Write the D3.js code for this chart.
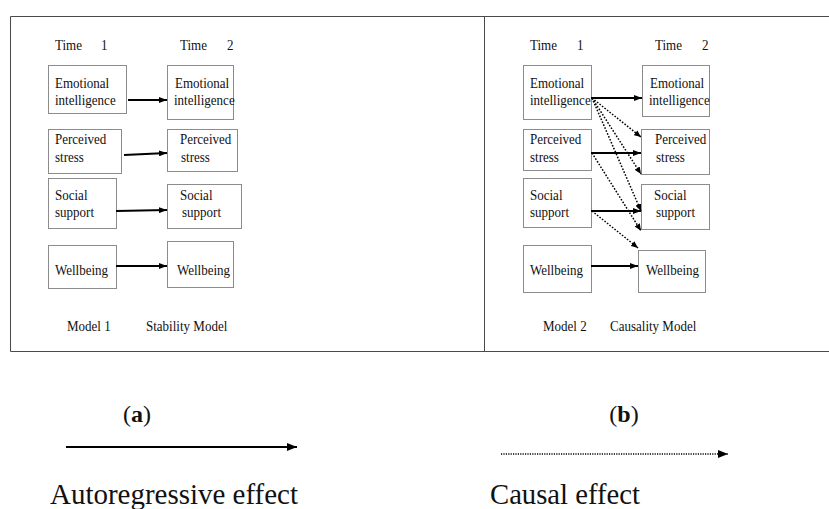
<!DOCTYPE html>
<html><head><meta charset="utf-8">
<script src="https://cdn.jsdelivr.net/npm/d3@7"></script>
<style>body{margin:0;background:#fff}svg{display:block}</style>
</head><body>
<script>
// ---- content ----
const timeLabels = ["1", "2"];
const variableLines = [["Emotional", "intelligence"], ["Perceived", "stress"], ["Social", "support"], ["Wellbeing"]];
const modelNumbers = ["Model 1", "Model 2"];
const modelNames = ["Stability Model", "Causality Model"];
const panelLetters = ["a", "b"];
const effectLabels = ["Autoregressive effect", "Causal effect"];
// causal (dotted) paths of model 2: source variable, target variable, anchor on target box edge (fraction of height)
const causalFrom = [0, 0, 0, 1, 2];
const causalTo = [1, 1, 2, 2, 3];
const causalAnchor = [0.18, 1.0, 0.6, 1.04, -0.05];

// ---- layout ----
const W = 829, H = 509;
const layout = {
  frame: {x0: 10, y0: 16, x1: 829, y1: 351, divider: 484},
  panels: [
    {
      t1: [[48,65,78,48],[48,129,73,44],[48,178,68,50],[48,245,68,43]],
      t2: [[167,65,66,54],[167,129,70,42],[167,184,74,44],[167,241,66,46]],
      t1dx: [[7,7],[7,7],[7,7],[7]],
      t2dx: [[8,7],[13,14],[13,15],[10]],
      arrowY: [[100,100],[155,153],[211,210],[266,266]],
      arrowGap: [2,3,0,0],
      timeX: [[55,101],[180,227]],
      modelX: [67,146]
    },
    {
      t1: [[523,65,68,54],[523,129,68,41],[523,178,68,49],[523,245,68,47]],
      t2: [[642,65,67,51],[641,129,68,45],[641,184,68,45],[638,250,67,42]],
      t1dx: [[7,7],[7,7],[7,7],[7]],
      t2dx: [[8,7],[14,15],[13,15],[8]],
      arrowY: [[98,98],[153,153],[211,211],[266,266]],
      arrowGap: [0,0,0,0],
      timeX: [[530,577],[655,702]],
      modelX: [543,610]
    }
  ],
  rowBase: [[88,105],[144,162],[200,217],[275]],
  timeY: 50, modelY: 331,
  legend: {
    letterX: [137, 624], letterY: 422,
    arrowX: [[66,297],[501,728]], arrowY: [447, 454],
    labelX: [50, 490], labelY: 504, labelLen: [248, 150]
  }
};
const FS = 15.5, SX = 0.84; // diagram font: tall and narrow

const svg = d3.select("body").append("svg").attr("width", W).attr("height", H);
const defs = svg.append("defs");
function marker(id, len, wid) {
  defs.append("marker").attr("id", id)
    .attr("viewBox", `0 0 ${len} ${wid}`).attr("refX", len).attr("refY", wid/2)
    .attr("markerWidth", len).attr("markerHeight", wid).attr("markerUnits", "userSpaceOnUse")
    .attr("orient", "auto")
    .append("path").attr("d", `M0,0L${len},${wid/2}L0,${wid}Z`).attr("fill", "#000");
}
marker("hs", 8, 6);
marker("hd", 7, 6);
marker("hl", 10, 8);
marker("hld", 10, 8);

const serif = "'Liberation Serif','Times New Roman',serif";
const F = layout.frame;
const fr = svg.append("g").attr("stroke", "#4a4a4a").attr("stroke-width", 1).attr("fill", "none");
fr.append("path").attr("d", `M${F.x1},${F.y0+0.5}H${F.x0+0.5}V${F.y1+0.5}H${F.x1}`);
fr.append("line").attr("x1", F.divider+0.5).attr("x2", F.divider+0.5).attr("y1", F.y0).attr("y2", F.y1);

function label(g, x, y, s) {
  g.append("text").attr("transform", `translate(${x},${y}) scale(${SX},1)`).text(s);
}

layout.panels.forEach((p, pi) => {
  const g = svg.append("g").attr("font-family", serif).attr("font-size", FS).attr("fill", "#111");
  // time headers
  timeLabels.forEach((t, ti) => {
    label(g, p.timeX[ti][0], layout.timeY, "Time");
    label(g, p.timeX[ti][1], layout.timeY, t);
  });
  // boxes
  [p.t1, p.t2].forEach((col, ci) => {
    const dxs = ci === 0 ? p.t1dx : p.t2dx;
    col.forEach((b, vi) => {
      g.append("rect").attr("x", b[0]+0.5).attr("y", b[1]+0.5).attr("width", b[2]).attr("height", b[3])
        .attr("fill", "#fff").attr("stroke", "#8c8c8c").attr("stroke-width", 1);
      variableLines[vi].forEach((ln, li) => {
        label(g, b[0] + dxs[vi][li], layout.rowBase[vi][li], ln);
      });
    });
  });
  // autoregressive arrows
  variableLines.forEach((_, vi) => {
    const s = p.t1[vi], t = p.t2[vi];
    svg.append("line")
      .attr("x1", s[0] + s[2] + p.arrowGap[vi]).attr("y1", p.arrowY[vi][0])
      .attr("x2", t[0]).attr("y2", p.arrowY[vi][1])
      .attr("stroke", "#000").attr("stroke-width", 1.8).attr("marker-end", "url(#hs)");
  });
  // causal arrows (model 2 only)
  if (pi === 1) {
    causalFrom.forEach((fi, k) => {
      const s = p.t1[fi], t = p.t2[causalTo[k]];
      svg.append("line")
        .attr("x1", s[0] + s[2] + 1).attr("y1", p.arrowY[fi][0])
        .attr("x2", t[0]).attr("y2", t[1] + t[3] * causalAnchor[k])
        .attr("stroke", "#000").attr("stroke-width", 1.5).attr("stroke-dasharray", "1.6,1.6")
        .attr("marker-end", "url(#hd)");
    });
  }
  label(g, p.modelX[0], layout.modelY, modelNumbers[pi]);
  label(g, p.modelX[1], layout.modelY, modelNames[pi]);
});

// legend
const L = layout.legend;
panelLetters.forEach((letter, i) => {
  const t = svg.append("text").attr("x", L.letterX[i]).attr("y", L.letterY).attr("text-anchor", "middle")
    .attr("font-family", serif).attr("font-size", 24).attr("fill", "#111");
  t.append("tspan").text("(");
  t.append("tspan").attr("font-weight", "bold").text(letter);
  t.append("tspan").text(")");
  svg.append("line").attr("x1", L.arrowX[i][0]).attr("x2", L.arrowX[i][1])
    .attr("y1", L.arrowY[i]).attr("y2", L.arrowY[i])
    .attr("stroke", "#000").attr("stroke-width", i === 0 ? 2 : 1.6)
    .attr("stroke-dasharray", i === 0 ? null : "1.2,1.2")
    .attr("marker-end", i === 0 ? "url(#hl)" : "url(#hld)");
  svg.append("text").attr("x", L.labelX[i]).attr("y", L.labelY)
    .attr("font-family", serif).attr("font-size", 29).attr("fill", "#111")
    .attr("textLength", L.labelLen[i]).attr("lengthAdjust", "spacingAndGlyphs")
    .text(effectLabels[i]);
});
</script>
</body></html>
